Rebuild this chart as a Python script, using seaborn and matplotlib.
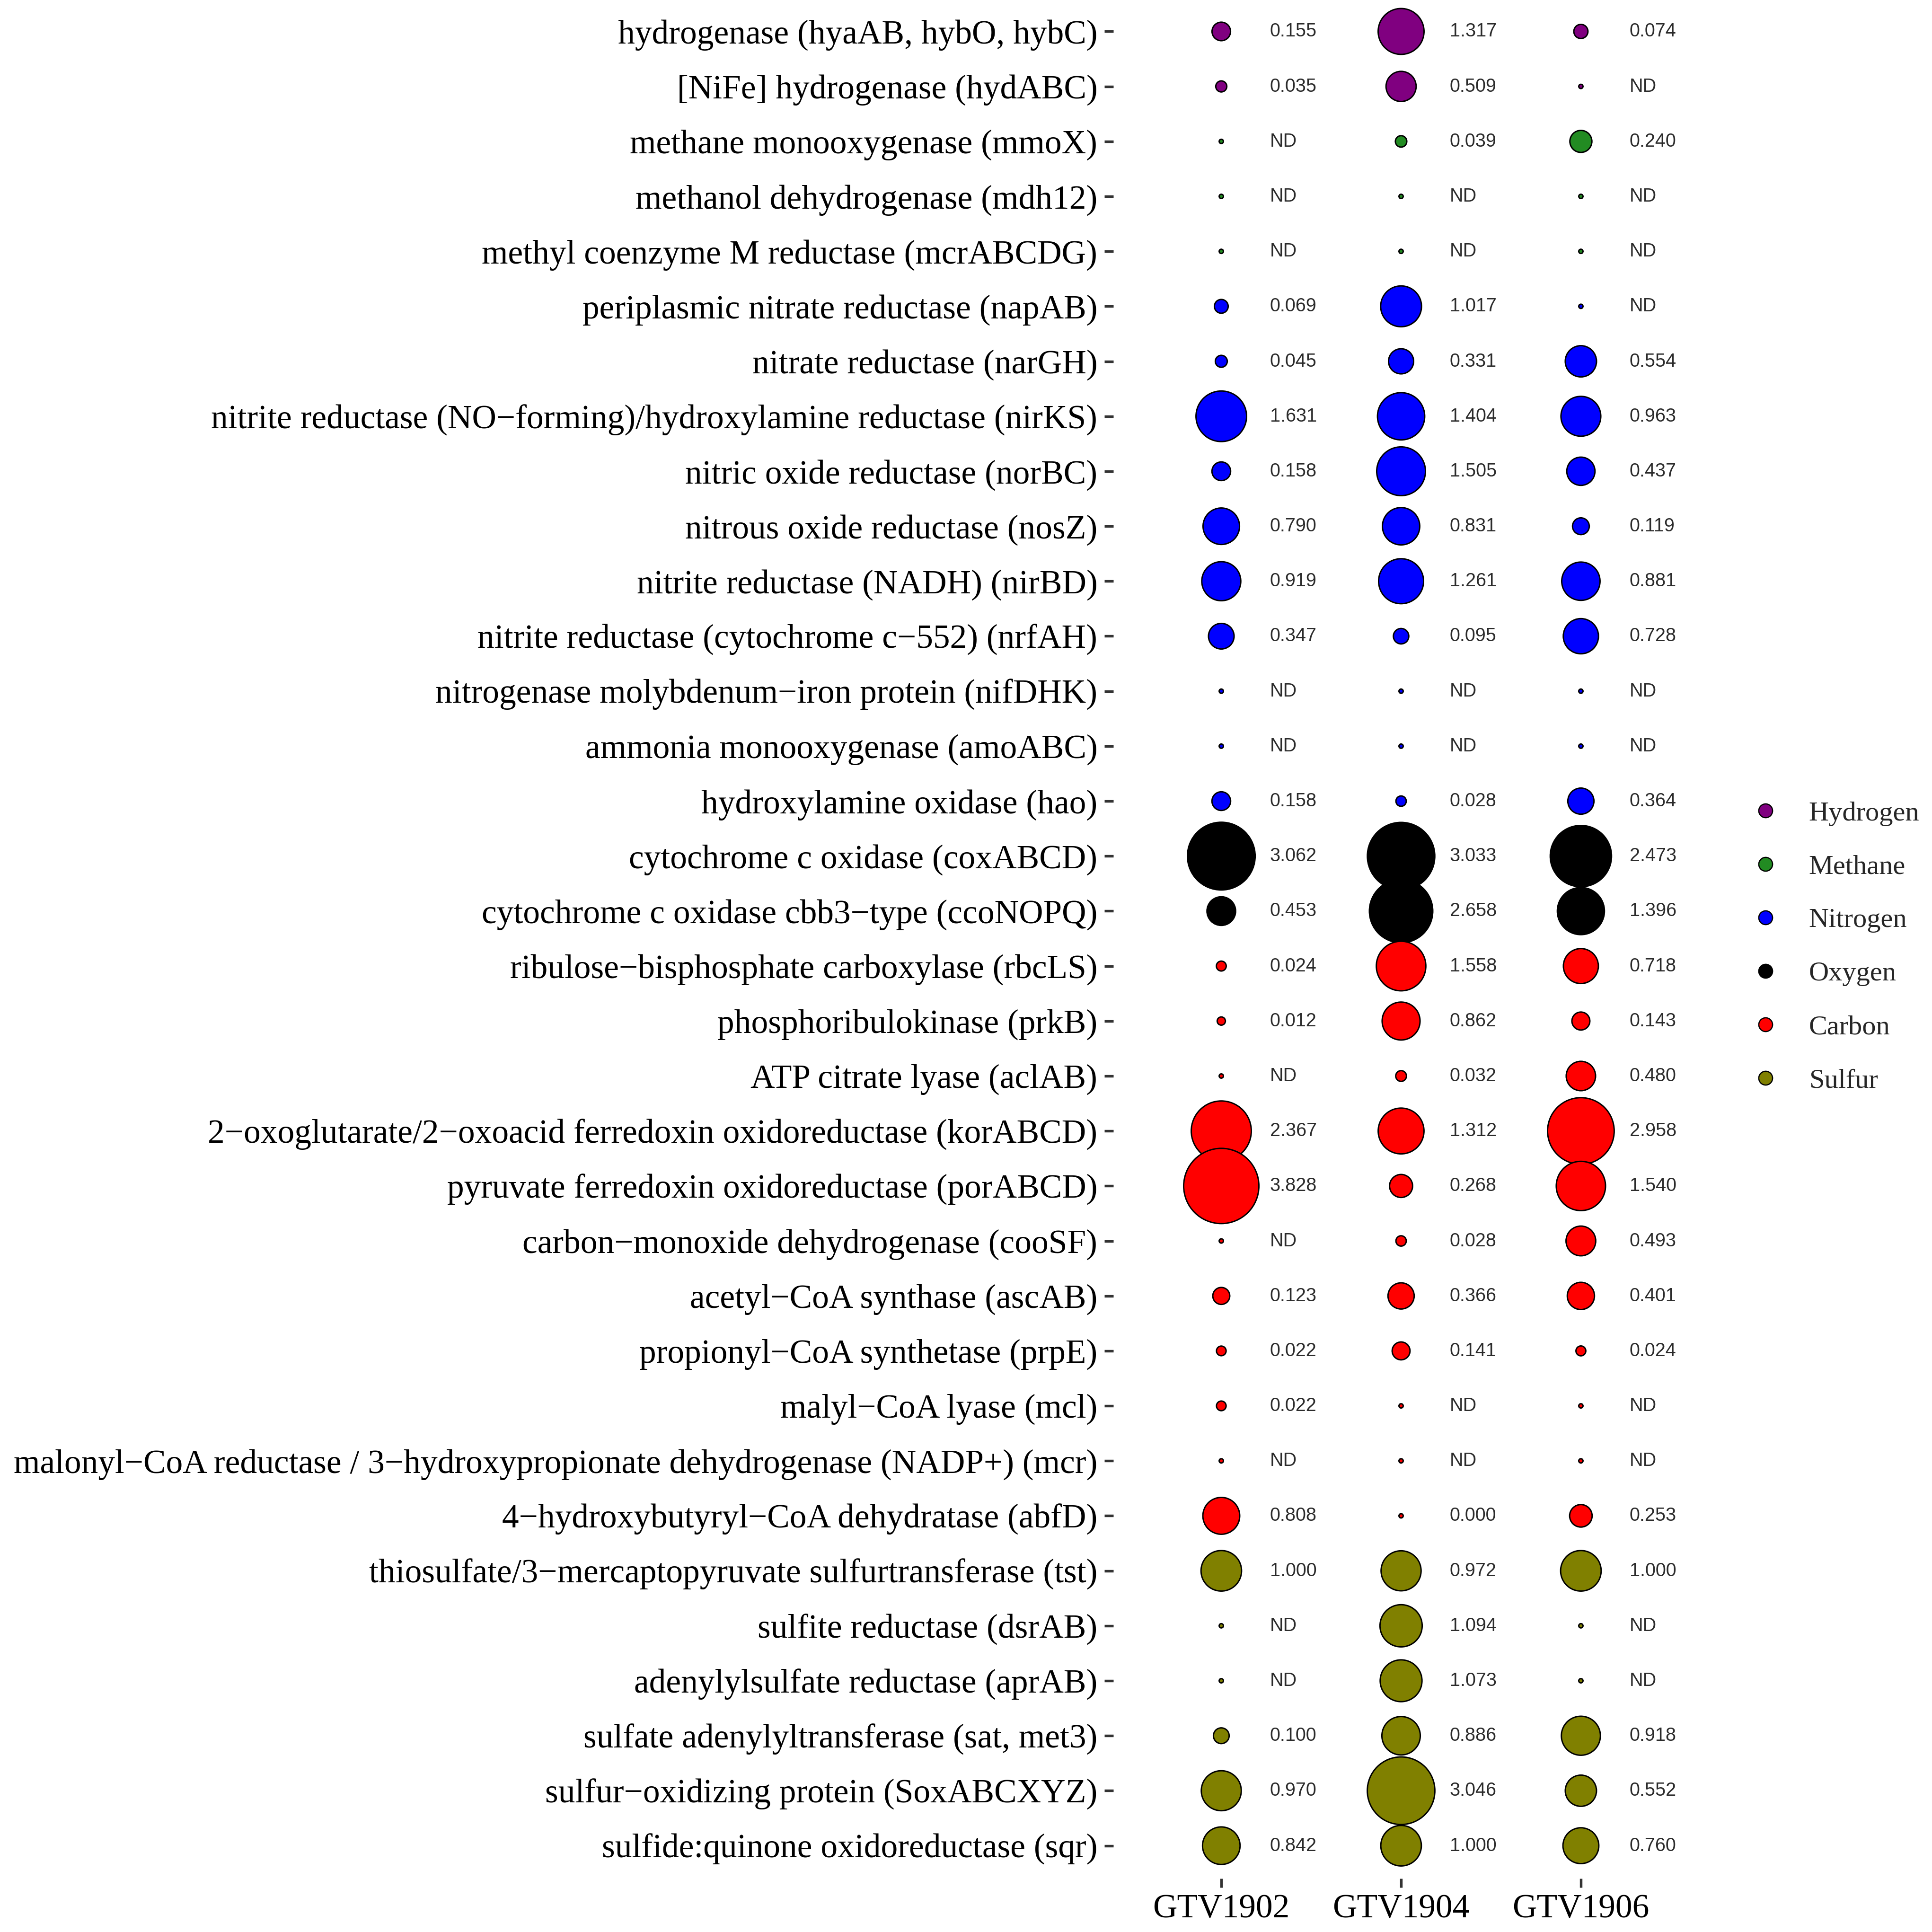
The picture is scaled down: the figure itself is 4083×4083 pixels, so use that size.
import numpy as np
import pandas as pd
import seaborn as sns
import matplotlib
matplotlib.use("Agg")
import matplotlib.pyplot as plt
from matplotlib.lines import Line2D

ND = np.nan

genes = [
    "hydrogenase (hyaAB, hybO, hybC)",
    "[NiFe] hydrogenase (hydABC)",
    "methane monooxygenase (mmoX)",
    "methanol dehydrogenase (mdh12)",
    "methyl coenzyme M reductase (mcrABCDG)",
    "periplasmic nitrate reductase (napAB)",
    "nitrate reductase (narGH)",
    "nitrite reductase (NO\u2212forming)/hydroxylamine reductase (nirKS)",
    "nitric oxide reductase (norBC)",
    "nitrous oxide reductase (nosZ)",
    "nitrite reductase (NADH) (nirBD)",
    "nitrite reductase (cytochrome c\u2212552) (nrfAH)",
    "nitrogenase molybdenum\u2212iron protein (nifDHK)",
    "ammonia monooxygenase (amoABC)",
    "hydroxylamine oxidase (hao)",
    "cytochrome c oxidase (coxABCD)",
    "cytochrome c oxidase cbb3\u2212type (ccoNOPQ)",
    "ribulose\u2212bisphosphate carboxylase (rbcLS)",
    "phosphoribulokinase (prkB)",
    "ATP citrate lyase (aclAB)",
    "2\u2212oxoglutarate/2\u2212oxoacid ferredoxin oxidoreductase (korABCD)",
    "pyruvate ferredoxin oxidoreductase (porABCD)",
    "carbon\u2212monoxide dehydrogenase (cooSF)",
    "acetyl\u2212CoA synthase (ascAB)",
    "propionyl\u2212CoA synthetase (prpE)",
    "malyl\u2212CoA lyase (mcl)",
    "malonyl\u2212CoA reductase / 3\u2212hydroxypropionate dehydrogenase (NADP+) (mcr)",
    "4\u2212hydroxybutyryl\u2212CoA dehydratase (abfD)",
    "thiosulfate/3\u2212mercaptopyruvate sulfurtransferase (tst)",
    "sulfite reductase (dsrAB)",
    "adenylylsulfate reductase (aprAB)",
    "sulfate adenylyltransferase (sat, met3)",
    "sulfur\u2212oxidizing protein (SoxABCXYZ)",
    "sulfide:quinone oxidoreductase (sqr)",
]

cycles = (["Hydrogen"] * 2 + ["Methane"] * 3 + ["Nitrogen"] * 10 + ["Oxygen"] * 2
          + ["Carbon"] * 11 + ["Sulfur"] * 6)

samples = ["GTV1902", "GTV1904", "GTV1906"]

gtv1902 = [0.155, 0.035, ND, ND, ND, 0.069, 0.045, 1.631, 0.158, 0.790, 0.919, 0.347,
           ND, ND, 0.158, 3.062, 0.453, 0.024, 0.012, ND, 2.367, 3.828, ND, 0.123,
           0.022, 0.022, ND, 0.808, 1.000, ND, ND, 0.100, 0.970, 0.842]
gtv1904 = [1.317, 0.509, 0.039, ND, ND, 1.017, 0.331, 1.404, 1.505, 0.831, 1.261, 0.095,
           ND, ND, 0.028, 3.033, 2.658, 1.558, 0.862, 0.032, 1.312, 0.268, 0.028, 0.366,
           0.141, ND, ND, 0.000, 0.972, 1.094, 1.073, 0.886, 3.046, 1.000]
gtv1906 = [0.074, ND, 0.240, ND, ND, ND, 0.554, 0.963, 0.437, 0.119, 0.881, 0.728,
           ND, ND, 0.364, 2.473, 1.396, 0.718, 0.143, 0.480, 2.958, 1.540, 0.493, 0.401,
           0.024, ND, ND, 0.253, 1.000, ND, ND, 0.918, 0.552, 0.760]

cycle_order = ["Hydrogen", "Methane", "Nitrogen", "Oxygen", "Carbon", "Sulfur"]
cycle_colors = {"Hydrogen": "#800080", "Methane": "#228B22", "Nitrogen": "#0000FF",
                "Oxygen": "#000000", "Carbon": "#FF0000", "Sulfur": "#808000"}

# long table
rows = []
for i, g in enumerate(genes):
    for s, vals in zip(samples, [gtv1902, gtv1904, gtv1906]):
        rows.append({"gene": g, "sample": s, "cycle": cycles[i], "value": vals[i]})
df = pd.DataFrame(rows)

# bubble diameter grows with sqrt(value), like ggplot's area scale
DPI = 300
px2pt = 72 / DPI
d_min, d_max = 9 * px2pt, 159 * px2pt
vmax = df["value"].max()
df["area"] = (d_min + (d_max - d_min) * np.sqrt(df["value"].fillna(0) / vmax)) ** 2
df["label"] = df["value"].map(lambda v: "ND" if np.isnan(v) else f"{v:.3f}")

sns.set_style("white")
plt.rcParams["font.family"] = ["Liberation Serif", "DejaVu Serif"]

fig = plt.figure(figsize=(4083 / DPI, 4083 / DPI), dpi=DPI)
ax = fig.add_axes([0.5763, 0.0276, 0.2978, 0.9732])

amin, amax = d_min ** 2, d_max ** 2
sns.scatterplot(data=df, x="sample", y="gene", hue="cycle", hue_order=cycle_order,
                palette=cycle_colors, size="area", sizes=(amin, amax), size_norm=(amin, amax),
                edgecolor="black", linewidth=0.7, legend=False, ax=ax, zorder=3)

for _, r in df.iterrows():
    ax.text(samples.index(r["sample"]) + 0.27, genes.index(r["gene"]), r["label"],
            ha="left", va="center", fontsize=9.5, family=["Liberation Sans", "DejaVu Sans"],
            color="#2b2b2b")

ax.set_xlim(-0.6, 2.6)
ax.set_ylim(len(genes) - 0.4, -0.6)
ax.set_xlabel("")
ax.set_ylabel("")
for sp in ax.spines.values():
    sp.set_visible(False)
ax.tick_params(axis="both", left=True, bottom=True, length=4.5, width=1.3,
               color="#333333", labelsize=17.15, labelcolor="black")
ax.tick_params(axis="y", pad=3.6)
ax.tick_params(axis="x", pad=3.3)

handles = [Line2D([], [], marker="o", linestyle="", markerfacecolor=cycle_colors[c],
                  markeredgecolor="black", markeredgewidth=0.6, markersize=7)
           for c in cycle_order]
fig.legend(handles, cycle_order, loc="center left", bbox_to_anchor=(0.9067, 0.5098),
           frameon=False, prop={"family": ["Liberation Serif", "DejaVu Serif"], "size": 14},
           handlelength=1.0, handletextpad=1.07, labelspacing=1.03, borderpad=0,
           borderaxespad=0)

fig.savefig("out.png", dpi=DPI)
